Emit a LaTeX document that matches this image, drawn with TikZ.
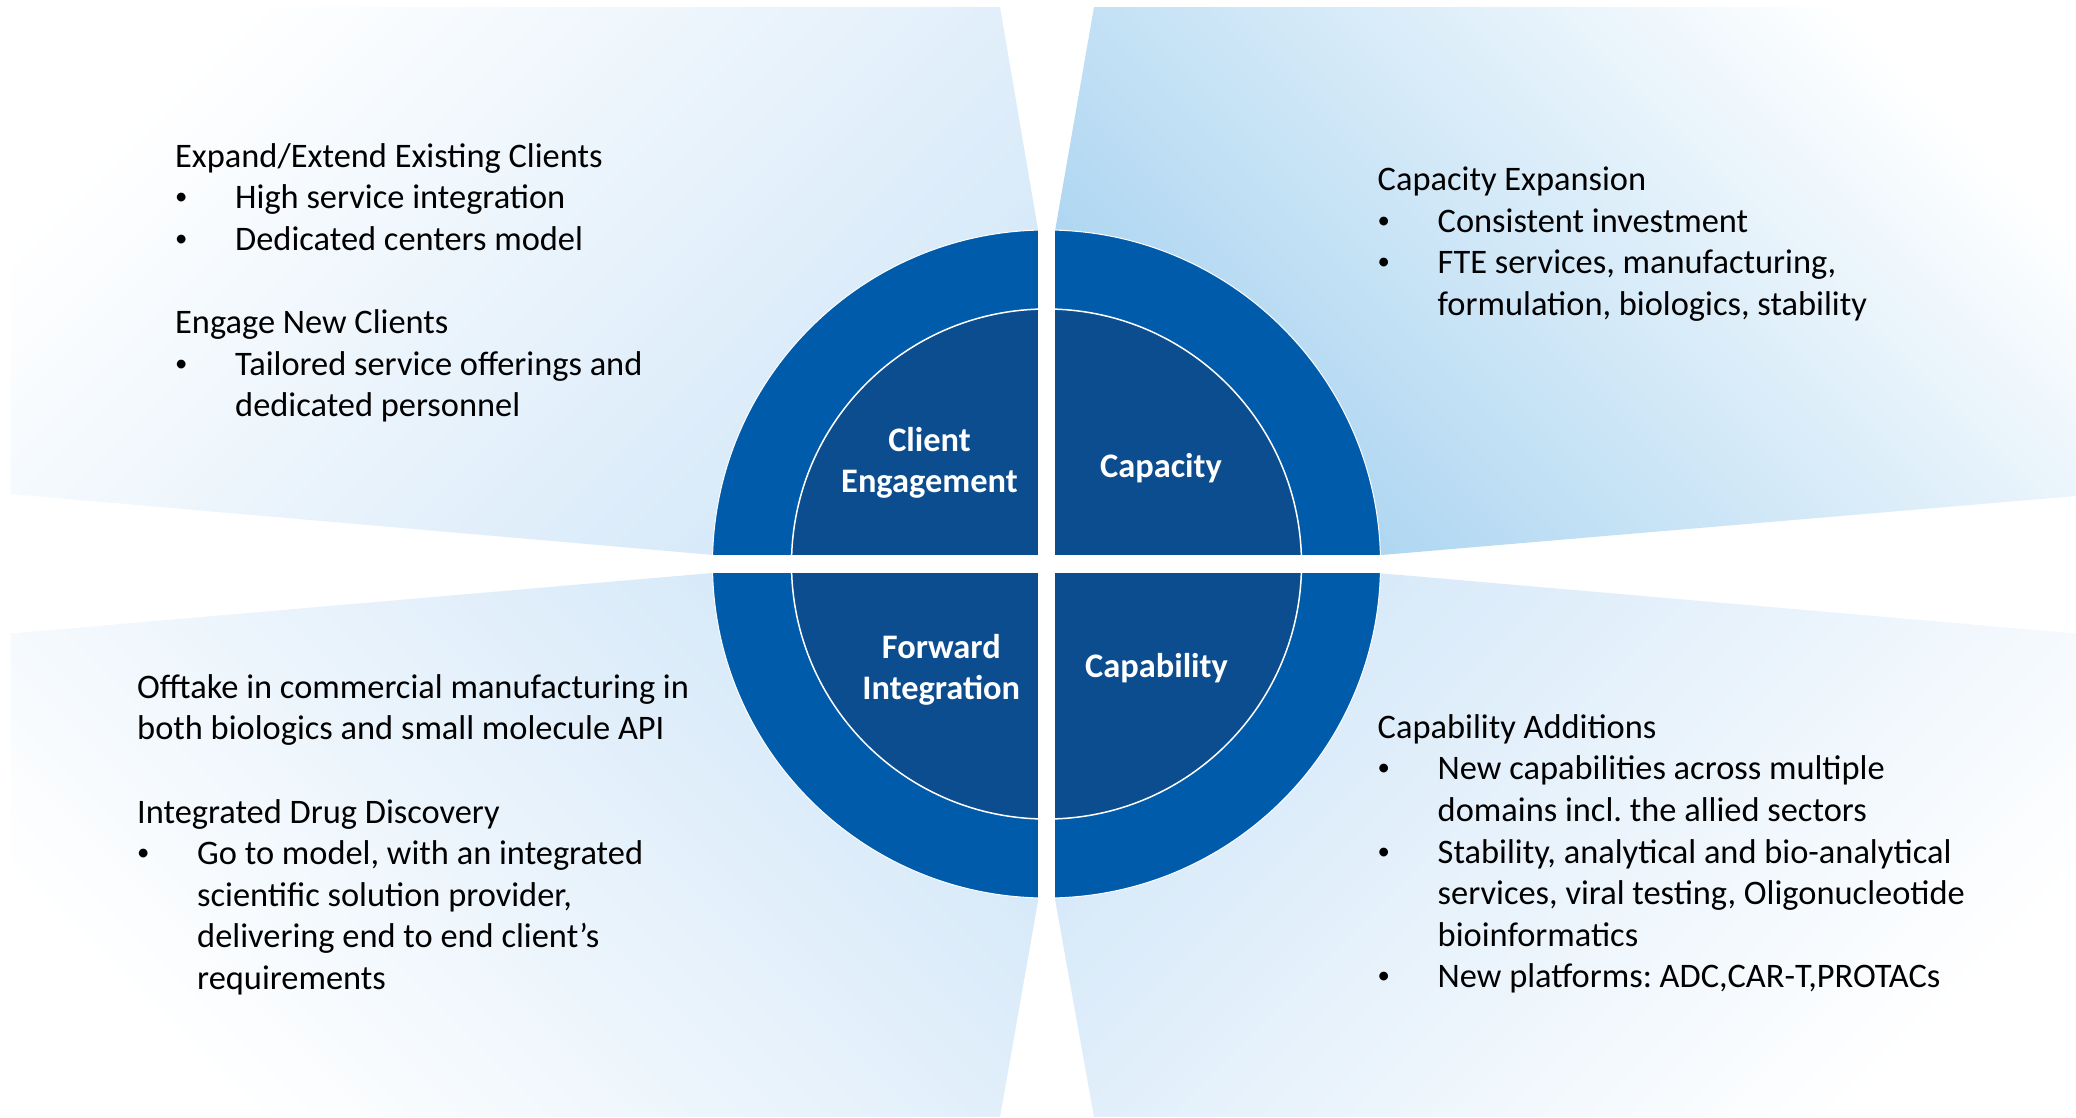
\documentclass[tikz,border=0pt]{standalone}
\usepackage{fontspec}
\usepackage{graphicx}
\setmainfont{Carlito}
\frenchspacing
\definecolor{ringblue}{HTML}{005BAA}
\definecolor{coreblue}{HTML}{0C4D8F}
\definecolor{paleblue}{HTML}{D3E7F8}
\definecolor{skyblue}{HTML}{A6D2F0}
\newcommand{\bulletmark}{\makebox[60pt][l]{\raisebox{4pt}{\scalebox{0.72}{•}}}}
\begin{document}
\begin{tikzpicture}[x=1pt,y=-1pt,
  body/.style={anchor=north west, inner sep=0pt, align=left, font=\fontsize{34.4}{41.6}\selectfont\frenchspacing, text=black},
  hub/.style={anchor=north, inner sep=0pt, align=center, font=\fontsize{34.4}{41.6}\selectfont\bfseries, text=white},
  ring/.style={fill=ringblue, draw=white, line width=1pt},
  core/.style={fill=coreblue, draw=white, line width=1.5pt},
  gapbar/.style={fill=white}]
\fill[white] (0,0) rectangle (2076,1117);
\useasboundingbox (0,0) rectangle (2076,1117);

% background fan panels
\shade[top color=white, bottom color=paleblue, shading angle=45]
  (10.5,7) -- (1000,7) -- (1050,300) -- (1046.5,564) -- (800,562.5) -- (10.5,494) -- cycle;
\shade[top color=white, bottom color=skyblue, shading angle=-45]
  (2076,7) -- (1094,7) -- (1043,300) -- (1046.5,564) -- (1292,562.6) -- (2076,496) -- cycle;
\shade[top color=white, bottom color=paleblue, shading angle=135]
  (10.5,633.5) -- (800,565.4) -- (1046.5,564) -- (1050.5,830) -- (1000,1117) -- (10.5,1117) -- cycle;
\shade[top color=white, bottom color=paleblue, shading angle=225]
  (2076,633.5) -- (1292,565.6) -- (1046.5,564) -- (1042.6,830) -- (1094,1117) -- (2076,1117) -- cycle;

% central wheel
\path[ring] (1046.5,564) circle[radius=334];
\path[core] (1046.5,564) circle[radius=255];
\path[gapbar] (1037.8,228) rectangle (1055.2,900);
\path[gapbar] (710,555.2) rectangle (1383,572.8);

% hub labels
\node[hub] (engage) at (929.5,421.9) {\strut Client\\Engagement};
\node[hub] (capacity) at (1161,447.9) {\strut Capacity};
\node[hub] (forward) at (941.3,628.7) {\strut Forward\\Integration};
\node[hub] (capability) at (1156.5,648.3) {\strut Capability};

% quadrant notes
\node[body] (tlnote) at (175,137.9) {\strut Expand/Extend Existing Clients\\
\bulletmark High service integration\\
\bulletmark Dedicated centers model\\[41.6pt]
Engage New Clients\\
\bulletmark Tailored service offerings and\\
\hspace*{60pt}dedicated personnel};

\node[body] (trnote) at (1377.5,161.4) {\strut Capacity Expansion\\
\bulletmark Consistent investment\\
\bulletmark FTE services, manufacturing,\\
\hspace*{60pt}formulation, biologics, stability};

\node[body] (blnote) at (137,668.9) {\strut Offtake in commercial manufacturing in\\
both biologics and small molecule API\\[41.6pt]
Integrated Drug Discovery\\
\bulletmark Go to model, with an integrated\\
\hspace*{60pt}scientific solution provider,\\
\hspace*{60pt}delivering end to end client’s\\
\hspace*{60pt}requirements};

\node[body] (brnote) at (1377.5,708.9) {\strut Capability Additions\\
\bulletmark New capabilities across multiple\\
\hspace*{60pt}domains incl. the allied sectors\\
\bulletmark Stability, analytical and bio-analytical\\
\hspace*{60pt}services, viral testing, Oligonucleotide\\
\hspace*{60pt}bioinformatics\\
\bulletmark New platforms: ADC,CAR-T,PROTACs};
\end{tikzpicture}
\end{document}
